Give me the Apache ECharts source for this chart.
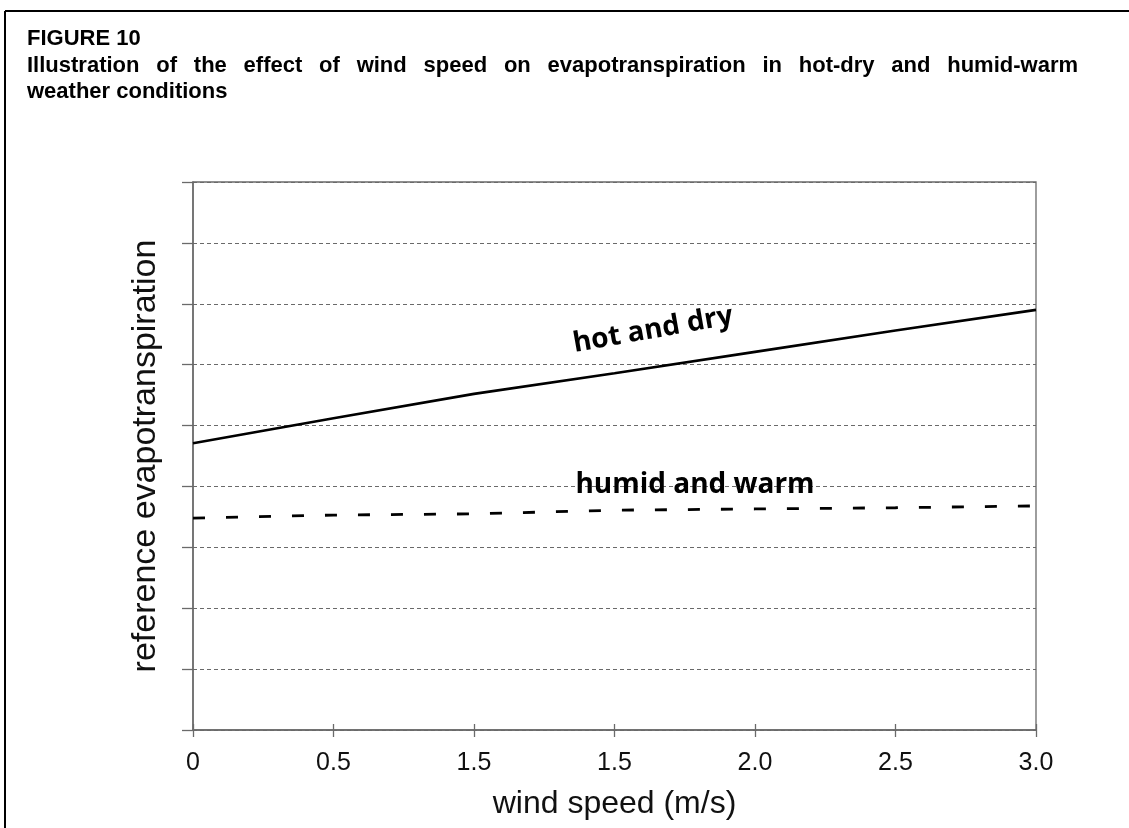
<!DOCTYPE html>
<html><head><meta charset="utf-8">
<script src="https://cdn.jsdelivr.net/npm/echarts@6/dist/echarts.min.js"></script>
<style>html,body{margin:0;padding:0;background:#fff}#c{width:1129px;height:828px}</style>
</head><body><div id="c"></div>
<script>
// ---- data ----
const categories = ['0', '0.5', '1.5', '1.5', '2.0', '2.5', '3.0'];
const hotDry = [4.71, 5.12, 5.52, 5.86, 6.21, 6.56, 6.90];
const humidWarm = [3.48, 3.53, 3.55, 3.61, 3.63, 3.65, 3.68];
const yMin = 0, yMax = 9, yInterval = 1;
const figureLabel = 'FIGURE 10';
const titleLine1 = 'Illustration of the effect of wind speed on evapotranspiration in hot-dry and humid-warm';
const titleLine2 = 'weather conditions';
const xName = 'wind speed (m/s)';
const yName = 'reference evapotranspiration';
const noteHot = 'hot and dry';
const noteHumid = 'humid and warm';

// ---- layout helpers ----
const titleFont = 'bold 22px "Liberation Sans", Arial, sans-serif';
const cnv = document.createElement('canvas').getContext('2d');
cnv.font = titleFont;
function justifiedWords(line, x0, x1, y) {
  const words = line.split(' ');
  const widths = words.map(w => cnv.measureText(w).width);
  const total = widths.reduce((a, b) => a + b, 0);
  const gap = (x1 - x0 - total) / (words.length - 1);
  let x = x0;
  return words.map((w, i) => {
    const el = { type: 'text', x: x, y: y, style: { text: w, font: titleFont, fill: '#000', align: 'left', verticalAlign: 'top' } };
    x += widths[i] + gap;
    return el;
  });
}

const chart = echarts.init(document.getElementById('c'), null, { renderer: 'canvas' });
const gridColor = '#6a6a6a';
const option = {
  backgroundColor: '#fff',
  animation: false,
  grid: { left: 193, right: 93, top: 182, bottom: 98, show: true, borderColor: gridColor, borderWidth: 1.3, containLabel: false },
  xAxis: [{
    type: 'category', data: categories, boundaryGap: false,
    axisLine: { lineStyle: { color: gridColor, width: 1.5 } },
    axisTick: { show: true, inside: false, length: 7, alignWithLabel: true, lineStyle: { color: gridColor, width: 1.3 } },
    axisLabel: { margin: 21, fontSize: 25, color: '#111', fontFamily: '"Liberation Sans", Arial, sans-serif' },
    splitLine: { show: false },
    name: xName, nameLocation: 'middle', nameGap: 58,
    nameTextStyle: { fontSize: 32, color: '#111', fontFamily: '"Liberation Sans", Arial, sans-serif' }
  }, {
    type: 'category', data: categories, boundaryGap: false, position: 'bottom',
    axisLine: { show: false },
    axisTick: { show: true, inside: true, length: 6, lineStyle: { color: gridColor, width: 1.3 } },
    axisLabel: { show: false }, splitLine: { show: false }
  }],
  yAxis: {
    type: 'value', min: yMin, max: yMax, interval: yInterval,
    axisLine: { show: true, lineStyle: { color: gridColor, width: 1.5 } },
    axisTick: { show: true, inside: false, length: 11, lineStyle: { color: gridColor, width: 1.3 } },
    axisLabel: { show: false },
    splitLine: { show: true, lineStyle: { color: gridColor, type: [4, 3], width: 1 } },
    name: yName, nameLocation: 'middle', nameGap: 30,
    nameTextStyle: { fontSize: 34, color: '#111', fontFamily: '"Liberation Sans", Arial, sans-serif' }
  },
  series: [{
    name: noteHot, type: 'line', data: hotDry, symbol: 'none', xAxisIndex: 0,
    lineStyle: { color: '#000', width: 2.6 }, z: 5
  }, {
    name: noteHumid, type: 'line', data: humidWarm, symbol: 'none', xAxisIndex: 0,
    lineStyle: { color: '#000', width: 2.8, type: [12, 21] }, z: 5
  }],
  graphic: [
    { type: 'line', shape: { x1: 5, y1: 11, x2: 1129, y2: 11 }, style: { stroke: '#000', lineWidth: 2 } },
    { type: 'line', shape: { x1: 5, y1: 11, x2: 5, y2: 828 }, style: { stroke: '#000', lineWidth: 2 } },
    { type: 'text', x: 27, y: 28, style: { text: figureLabel, font: titleFont, fill: '#000', align: 'left', verticalAlign: 'top' } },
    ...justifiedWords(titleLine1, 27, 1078, 55),
    { type: 'text', x: 27, y: 81, style: { text: titleLine2, font: titleFont, fill: '#000', align: 'left', verticalAlign: 'top' } },
    { type: 'text', x: 653, y: 330, rotation: 10 * Math.PI / 180, z: 10,
      style: { text: noteHot, font: 'bold 28px "Open Sans", sans-serif', fill: '#000', align: 'center', verticalAlign: 'middle' } },
    { type: 'text', x: 695, y: 485, z: 10,
      style: { text: noteHumid, font: 'bold 28px "Open Sans", sans-serif', fill: '#000', align: 'center', verticalAlign: 'middle' } }
  ]
};
chart.setOption(option);
</script></body></html>
